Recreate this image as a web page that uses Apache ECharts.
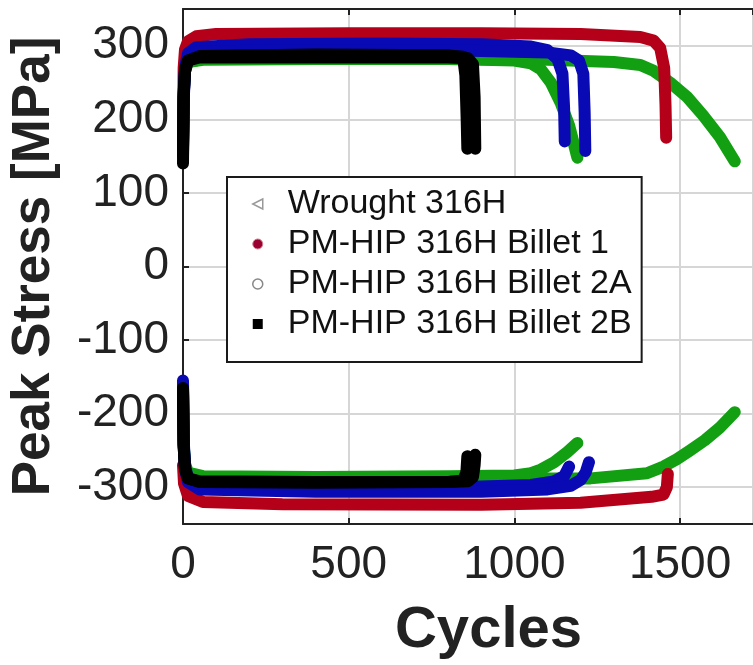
<!DOCTYPE html>
<html>
<head>
<meta charset="utf-8">
<script src="https://cdn.jsdelivr.net/npm/echarts@6/dist/echarts.min.js"></script>
<style>
html,body{margin:0;padding:0;background:#fff;}
#chart{width:753px;height:665px;}
</style>
</head>
<body>
<div id="chart"></div>
<script>
// ---- Data (cycle, peak stress MPa) ----
var legendNames = ['Wrought 316H', 'PM-HIP 316H Billet 1', 'PM-HIP 316H Billet 2A', 'PM-HIP 316H Billet 2B'];
var xTicks = [0, 500, 1000, 1500];
var yTicks = [-300, -200, -100, 0, 100, 200, 300];

// Wrought 316H, specimen A (tension / compression peaks)
var wroughtA_up = [[0,165],[2,235],[6,265],[15,278],[60,282],[400,283],[800,282],[1000,280],[1050,276],[1080,268],[1110,250],[1140,222],[1165,192],[1190,148]];
var wroughtA_lo = [[0,-165],[2,-240],[6,-268],[15,-280],[60,-285],[400,-286],[800,-285],[1000,-284],[1050,-281],[1080,-276],[1120,-266],[1160,-252],[1190,-240]];
// Wrought 316H, specimen B
var wroughtB_up = [[0,170],[2,240],[6,268],[15,278],[60,281],[400,282],[800,282],[1100,281],[1300,278],[1380,274],[1420,266],[1470,250],[1520,231],[1570,205],[1620,176],[1665,143]];
var wroughtB_lo = [[0,-165],[2,-242],[6,-270],[15,-282],[60,-287],[400,-288],[800,-288],[1230,-288],[1400,-281],[1450,-272],[1490,-262],[1530,-250],[1575,-236],[1620,-219],[1665,-198]];
// PM-HIP Billet 1
var billet1_up = [[0,175],[2,270],[6,295],[15,306],[40,313],[100,316],[500,317],[900,317],[1200,316],[1380,312],[1420,307],[1440,297],[1452,270],[1456,220],[1458,175]];
var billet1_lo = [[0,-270],[3,-295],[15,-312],[60,-320],[300,-323],[900,-324],[1200,-321],[1414,-313],[1450,-310],[1460,-300],[1463,-282]];
// PM-HIP Billet 2A, specimens 1 and 2
var billet2A1_up = [[0,155],[2,230],[6,270],[15,290],[40,298],[200,302],[600,303],[900,302],[1050,299],[1100,294],[1130,282],[1145,262],[1150,215],[1152,170]];
var billet2A1_lo = [[0,-155],[2,-235],[6,-270],[15,-288],[50,-296],[400,-299],[900,-299],[1050,-297],[1120,-292],[1150,-285],[1165,-272]];
var billet2A2_up = [[0,150],[2,225],[6,265],[15,285],[40,292],[300,294],[800,294],[1100,291],[1170,287],[1195,280],[1208,262],[1212,210],[1214,157]];
var billet2A2_lo = [[0,-160],[2,-240],[6,-275],[15,-293],[50,-303],[400,-306],[900,-306],[1100,-303],[1170,-298],[1200,-290],[1215,-280],[1225,-266]];
// PM-HIP Billet 2B, specimens 1 and 2
var billet2B1_up = [[0,140],[2,230],[6,265],[15,280],[50,286],[400,288],[800,287],[845,285],[852,260],[856,200],[858,160]];
var billet2B1_lo = [[0,-170],[2,-245],[6,-275],[15,-288],[50,-293],[400,-294],[800,-293],[845,-291],[855,-280],[858,-258]];
var billet2B2_up = [[0,160],[2,235],[6,268],[15,280],[50,284],[400,284],[800,284],[860,283],[875,275],[880,230],[882,160]];
var billet2B2_lo = [[0,-165],[2,-245],[6,-275],[15,-288],[50,-292],[400,-293],[800,-293],[860,-292],[875,-286],[880,-270],[882,-256]];

var colors = { wrought: '#12a012', b1: '#b5001a', b2a: '#0a0ab4', b2b: '#000000' };
var FONT = 'Liberation Sans, Arial, Helvetica, sans-serif';

function band(name, data, color) {
  return {
    name: name, type: 'line', data: data, symbol: 'none', smooth: false,
    lineStyle: { color: color, width: 12, cap: 'round', join: 'round' },
    itemStyle: { color: color },
    emphasis: { disabled: true }, animation: false
  };
}

var series = [
  band(legendNames[0], wroughtA_up, colors.wrought),
  band(legendNames[0], wroughtA_lo, colors.wrought),
  band(legendNames[0], wroughtB_up, colors.wrought),
  band(legendNames[0], wroughtB_lo, colors.wrought),
  band(legendNames[1], billet1_up, colors.b1),
  band(legendNames[1], billet1_lo, colors.b1),
  band(legendNames[2], billet2A1_up, colors.b2a),
  band(legendNames[2], billet2A1_lo, colors.b2a),
  band(legendNames[2], billet2A2_up, colors.b2a),
  band(legendNames[2], billet2A2_lo, colors.b2a),
  band(legendNames[3], billet2B1_up, colors.b2b),
  band(legendNames[3], billet2B1_lo, colors.b2b),
  band(legendNames[3], billet2B2_up, colors.b2b),
  band(legendNames[3], billet2B2_lo, colors.b2b)
];

var chart = echarts.init(document.getElementById('chart'), null, { renderer: 'canvas' });
chart.setOption({
  animation: false,
  backgroundColor: '#ffffff',
  grid: { left: 182, right: 0, top: 9, bottom: 140, containLabel: false },
  legend: {
    orient: 'vertical', left: 227, top: 177,
    backgroundColor: '#ffffff', borderColor: '#1a1a1a', borderWidth: 2, borderRadius: 0,
    padding: [10, 10, 21, 25], itemWidth: 50, itemHeight: 10, itemGap: 6,
    selectedMode: false,
    textStyle: { fontFamily: FONT, fontSize: 34, color: '#111' },
    data: [
      { name: legendNames[0], icon: 'path://M10,0 L0,5 L10,10 Z', itemStyle: { color: '#ffffff', borderColor: '#999999', borderWidth: 1.5 } },
      { name: legendNames[1], icon: 'circle', itemStyle: { color: '#9a0030', borderColor: '#d08090', borderWidth: 1 } },
      { name: legendNames[2], icon: 'circle', itemStyle: { color: '#ffffff', borderColor: '#888888', borderWidth: 1.5 } },
      { name: legendNames[3], icon: 'path://M0,0 L6,0 L6,6 L0,6 Z', itemStyle: { color: '#000000', borderWidth: 0 } }
    ]
  },
  xAxis: [{
    type: 'value', position: 'bottom', min: xTicks[0], max: 1720, interval: 500,
    name: 'Cycles', nameLocation: 'middle', nameGap: 78,
    nameTextStyle: { fontFamily: FONT, fontSize: 58, fontWeight: 'bold', color: '#222', padding: [0, 0, 0, 41] },
    axisLine: { show: true, onZero: false, lineStyle: { color: '#222', width: 2 } },
    axisTick: { show: true, inside: true, length: 6, lineStyle: { color: '#222', width: 2 } },
    axisLabel: { show: true, margin: 18, fontFamily: FONT, fontSize: 46, color: '#222',
      showMaxLabel: false, hideOverlap: false,
      formatter: function (v) { return xTicks.indexOf(v) >= 0 ? String(v) : ''; } },
    splitLine: { show: true, lineStyle: { color: '#d6d6d6', width: 2 } }
  }, {
    type: 'value', position: 'top', min: xTicks[0], max: 1720, interval: 500,
    axisLine: { show: true, onZero: false, lineStyle: { color: '#222', width: 2 } },
    axisTick: { show: true, inside: true, length: 6, lineStyle: { color: '#222', width: 2 } },
    axisLabel: { show: false }, splitLine: { show: false }
  }],
  yAxis: {
    type: 'value', min: -350, max: 350,
    name: 'Peak Stress [MPa]', nameLocation: 'middle', nameGap: 122, nameRotate: 90,
    nameTextStyle: { fontFamily: FONT, fontSize: 53, fontWeight: 'bold', color: '#222' },
    axisLine: { show: true, onZero: false, lineStyle: { color: '#222', width: 2 } },
    axisTick: { show: true, inside: true, length: 6, lineStyle: { color: '#222', width: 2 }, customValues: yTicks },
    axisLabel: { show: true, margin: 14, fontFamily: FONT, fontSize: 46, color: '#222', customValues: yTicks },
    splitLine: { show: true, lineStyle: { color: '#d6d6d6', width: 2 } }
  },
  series: series
});
</script>
</body>
</html>
